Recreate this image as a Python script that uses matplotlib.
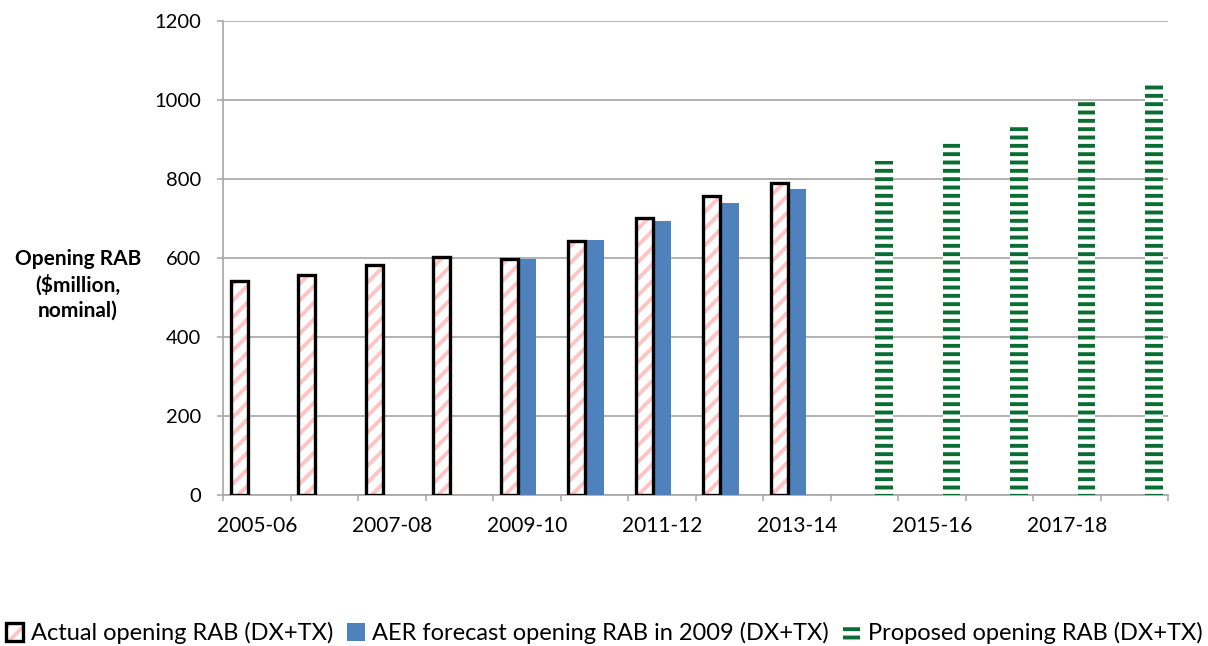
import numpy as np
import matplotlib
matplotlib.use('Agg')
import matplotlib.pyplot as plt
from matplotlib.legend_handler import HandlerTuple

OUTPUT_PATH = 'out.png'

# Financial years on the category axis
years = ['2005-06', '2006-07', '2007-08', '2008-09', '2009-10', '2010-11', '2011-12',
         '2012-13', '2013-14', '2014-15', '2015-16', '2016-17', '2017-18', '2018-19']

# Opening RAB, $million nominal
actual = [540, 555, 582, 601, 596, 642, 700, 755, 790, None, None, None, None, None]
aer_forecast = [None, None, None, None, 596, 646, 693, 738, 775, None, None, None, None, None]
proposed = [None, None, None, None, None, None, None, None, None, 844, 895, 936, 997, 1039]

yticks = [0, 200, 400, 600, 800, 1000, 1200]

GRID = '#a6a6a6'
PINK = '#ffc4c4'
BLUE = '#4f81bd'
GREEN = '#0a6e32'


def to_arr(vals):
    return np.array([np.nan if v is None else v for v in vals], dtype=float)


def main():
    plt.rcParams['font.family'] = ['Lato', 'DejaVu Sans']
    plt.rcParams['hatch.linewidth'] = 2.8

    fig = plt.figure(figsize=(12.08, 6.46), dpi=100)
    ax = fig.add_axes([223 / 1208, 1 - 494.7 / 646, (1168 - 223) / 1208, (494.7 - 20.7) / 646])

    x = np.arange(len(years))

    # Actual: pink diagonal hatch with a thick black outline
    act = to_arr(actual)
    h_act = ax.bar(x - 0.26, act, width=0.255, color='white', edgecolor=PINK,
                   hatch='//', linewidth=0, zorder=3)
    h_act_edge = ax.bar(x - 0.26, act, width=0.255, fill=False, edgecolor='black',
                        linewidth=2.4, zorder=4)

    # AER forecast: solid blue
    h_aer = ax.bar(x, to_arr(aer_forecast), width=0.28, color=BLUE, linewidth=0, zorder=3)

    # Proposed: green horizontal dashes
    h_prop = ax.bar(x + 0.29, to_arr(proposed), width=0.26, color='white', edgecolor=GREEN,
                    hatch='--', linewidth=0, zorder=3)

    ax.set_ylim(0, 1200)
    ax.set_yticks(yticks)
    ax.set_xlim(-0.5, len(years) - 0.5)

    # category boundaries get tick marks, every other centre gets a label
    ax.set_xticks(np.arange(len(years) + 1) - 0.5)
    ax.set_xticklabels([])
    ax.set_xticks(x[::2], minor=True)
    ax.set_xticklabels(years[::2], minor=True)
    ax.tick_params(axis='x', which='major', length=4.5, width=1.1, color=GRID, direction='out')
    ax.tick_params(axis='x', which='minor', length=0, pad=15, labelsize=15)
    ax.tick_params(axis='y', length=4.5, width=1.1, color=GRID, pad=11, labelsize=14.5)

    ax.grid(axis='y', color=GRID, linewidth=1.2, zorder=0)
    ax.set_axisbelow(True)
    for side in ['top', 'right']:
        ax.spines[side].set_visible(False)
    for side in ['left', 'bottom']:
        ax.spines[side].set_color(GRID)
        ax.spines[side].set_linewidth(1.2)

    fig.text(78 / 1208, 1 - 285 / 646, 'Opening RAB\n($million,\nnominal)', ha='center', va='center',
             fontsize=15, fontweight='bold', linespacing=1.3)

    fig.legend([(h_act, h_act_edge), h_aer, h_prop],
               ['Actual opening RAB (DX+TX)', 'AER forecast opening RAB in 2009 (DX+TX)',
                'Proposed opening RAB (DX+TX)'],
               handler_map={tuple: HandlerTuple(ndivide=1, pad=0)},
               loc='center', bbox_to_anchor=(0.5, 1 - 633 / 646), ncol=3, frameon=False,
               fontsize=17, handlelength=0.75, handleheight=0.8, handletextpad=0.3,
               columnspacing=0.6, borderaxespad=0, borderpad=0)

    fig.savefig(OUTPUT_PATH, dpi=100, facecolor='white')


if __name__ == '__main__':
    main()
